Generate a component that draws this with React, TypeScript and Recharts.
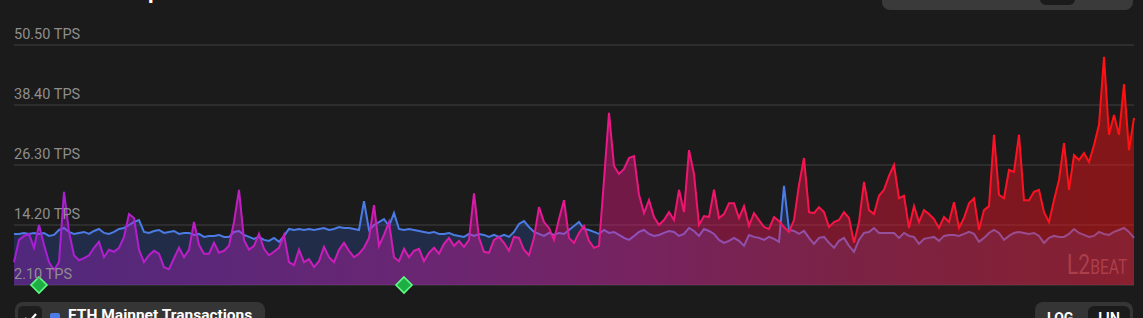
import React from "react";
import { ComposedChart, Area, XAxis, YAxis, CartesianGrid, ReferenceDot } from "recharts";

// Project transactions per second (daily)
const projectTps = [
  6.7, 11.2, 12.0, 12.4, 9.6, 14.2, 10.2, 6.7, 5.1, 6.7,
  20.9, 12.8, 8.1, 7.1, 7.5, 8.1, 9.6, 10.8, 7.7, 9.2,
  8.8, 9.6, 11.8, 16.4, 15.6, 9.2, 6.7, 8.1, 9.0, 8.4,
  5.7, 5.3, 7.5, 9.6, 7.7, 9.2, 14.8, 10.2, 8.4, 8.4,
  10.6, 8.6, 9.0, 10.0, 14.8, 21.3, 11.2, 9.2, 10.0, 12.4,
  9.4, 8.1, 8.8, 9.6, 12.2, 6.7, 6.1, 9.2, 6.7, 7.3,
  5.7, 6.9, 9.8, 7.7, 6.7, 9.2, 10.6, 9.0, 7.7, 8.4,
  9.6, 11.6, 18.2, 10.0, 12.2, 14.8, 7.7, 6.9, 9.4, 7.7,
  9.0, 9.4, 6.9, 8.6, 9.6, 8.4, 10.4, 11.6, 10.0, 11.0,
  9.8, 11.2, 20.6, 11.6, 8.8, 8.6, 11.2, 11.8, 10.6, 9.0,
  11.8, 11.6, 9.2, 8.1, 11.6, 17.8, 14.8, 13.6, 11.2, 15.4,
  19.2, 11.6, 10.6, 12.6, 14.0, 11.0, 9.6, 10.0, 23.3, 36.8,
  26.1, 24.5, 25.5, 27.7, 28.1, 20.3, 16.6, 19.2, 15.8, 14.2,
  15.2, 16.8, 15.2, 21.3, 16.8, 29.3, 24.5, 14.2, 16.0, 15.8,
  21.3, 15.6, 16.4, 18.6, 18.6, 15.6, 18.0, 14.0, 16.6, 15.2,
  13.8, 13.4, 15.8, 15.0, 13.8, 12.8, 15.2, 22.3, 27.7, 16.8,
  16.6, 17.8, 16.8, 13.8, 14.8, 15.2, 16.8, 15.6, 10.6, 14.8,
  22.9, 17.2, 16.4, 20.1, 21.3, 24.1, 26.3, 19.6, 20.1, 13.6,
  18.0, 14.8, 17.2, 16.4, 15.4, 13.6, 15.8, 14.8, 18.8, 13.6,
  15.6, 18.6, 19.6, 13.2, 17.2, 18.0, 32.4, 20.3, 19.6, 25.3,
  24.9, 32.4, 19.2, 19.2, 20.9, 21.3, 16.8, 14.8, 19.2, 23.3,
  30.7, 21.3, 28.3, 27.3, 28.7, 26.9, 30.3, 34.4, 48.1, 32.4,
  36.4, 32.4, 42.6, 29.3, 35.8,
];

// ETH Mainnet transactions per second (daily)
const ethTps = [
  12.4, 12.4, 12.6, 12.4, 12.6, 12.4, 12.6, 12.0, 12.2, 13.2,
  13.6, 12.8, 12.4, 12.6, 12.8, 12.4, 13.0, 13.4, 12.6, 12.4,
  12.8, 13.4, 13.6, 14.2, 14.8, 15.2, 12.8, 12.6, 13.0, 13.2,
  12.6, 12.8, 13.0, 12.4, 12.6, 12.6, 12.2, 12.4, 11.8, 12.0,
  12.0, 12.2, 11.8, 11.8, 12.8, 13.0, 12.2, 11.8, 11.4, 11.8,
  11.2, 11.0, 11.6, 10.8, 12.0, 13.4, 13.2, 13.4, 13.2, 13.4,
  13.2, 13.4, 13.6, 13.2, 13.4, 13.8, 13.6, 13.6, 13.4, 13.2,
  19.0, 13.2, 14.2, 14.8, 15.4, 14.0, 16.6, 13.4, 13.2, 13.4,
  13.2, 13.0, 12.8, 12.6, 12.8, 12.4, 12.4, 12.6, 12.2, 12.0,
  11.8, 12.4, 12.0, 12.4, 12.2, 11.8, 12.2, 11.8, 12.2, 11.8,
  12.8, 14.4, 15.0, 13.8, 12.8, 12.4, 12.0, 12.6, 12.2, 12.6,
  12.4, 13.2, 14.0, 14.8, 13.4, 13.2, 12.8, 12.4, 13.2, 12.6,
  12.8, 12.2, 11.6, 11.2, 12.0, 12.8, 13.2, 12.4, 12.0, 12.2,
  12.6, 13.0, 12.8, 12.0, 12.4, 13.6, 13.0, 12.0, 13.4, 13.0,
  12.4, 11.2, 10.6, 11.0, 11.6, 11.0, 10.0, 12.2, 11.8, 11.6,
  11.2, 11.8, 11.4, 10.8, 22.1, 13.2, 13.0, 12.4, 13.0, 11.6,
  10.4, 11.6, 11.8, 10.6, 9.6, 11.0, 11.6, 10.0, 8.8, 11.2,
  12.6, 12.8, 13.6, 12.6, 12.6, 12.6, 12.6, 11.6, 12.6, 12.0,
  11.8, 10.4, 11.4, 11.6, 11.8, 11.0, 12.0, 12.2, 12.2, 12.0,
  12.4, 12.8, 12.4, 10.8, 11.6, 12.6, 13.2, 12.6, 11.2, 12.0,
  12.6, 12.8, 12.6, 12.4, 12.6, 12.0, 10.6, 11.6, 12.0, 11.8,
  11.8, 12.4, 13.4, 12.6, 12.2, 11.8, 12.0, 12.8, 12.4, 12.2,
  12.8, 13.2, 13.6, 12.8, 11.6,
];

const dayIndex = projectTps.map((_, i) => i);
const yTicks = [2.1, 14.2, 26.3, 38.4, 50.5];
const milestoneDays = [5, 78];

const data = dayIndex.map((d) => ({ day: d, project: projectTps[d], eth: ethTps[d] }));

const W = 1143;
const H = 318;
const LEFT = 14;
const BG = "#1b1b1b";

const YTick = (props: any) => {
  const { y, payload } = props;
  return (
    <text x={LEFT} y={y - 6} fill="#8e8e8e" fontSize={14.5} fontFamily="Roboto, sans-serif" textAnchor="start">
      {Number(payload.value).toFixed(2)} TPS
    </text>
  );
};

const Diamond = (props: any) => {
  const { cx, cy } = props;
  const r = 8;
  return (
    <path
      d={`M${cx},${cy - r} L${cx + r},${cy} L${cx},${cy + r} L${cx - r},${cy} Z`}
      fill="#1fae43"
      stroke="#5cff84"
      strokeWidth={1.6}
    />
  );
};

export default function App() {
  return (
    <div style={{ position: "fixed", left: 0, top: 0, width: W, height: H, background: BG, overflow: "hidden", fontFamily: "Roboto, sans-serif" }}>
      {/* Title (mostly cropped) */}
      <div style={{ position: "absolute", left: 14, top: -22, fontSize: 22, fontWeight: 700, color: "#fff", whiteSpace: "nowrap" }}>
        Transactions per second
      </div>
      {/* Range selector (cropped) */}
      <div style={{ position: "absolute", left: 882, top: -24, width: 251, height: 34, background: "#3a3a3a", borderRadius: 8 }}>
        <div style={{ position: "absolute", left: 158, top: 0, width: 35, height: 29, background: BG, borderRadius: 6 }} />
      </div>

      <ComposedChart width={W} height={H} data={data} margin={{ top: 45, right: 9, bottom: 33, left: LEFT }}>
        <defs>
          <linearGradient id="projStroke" x1="0" y1="0" x2="1" y2="0">
            <stop offset="0%" stopColor="#a61fd8" />
            <stop offset="38%" stopColor="#d91bb0" />
            <stop offset="55%" stopColor="#ec1682" />
            <stop offset="75%" stopColor="#f8143f" />
            <stop offset="100%" stopColor="#ff1010" />
          </linearGradient>
          <linearGradient id="projFill" x1="0" y1="0" x2="1" y2="0">
            <stop offset="0%" stopColor="#a61fd8" stopOpacity={0.36} />
            <stop offset="38%" stopColor="#d91bb0" stopOpacity={0.4} />
            <stop offset="55%" stopColor="#ec1682" stopOpacity={0.42} />
            <stop offset="75%" stopColor="#f8143f" stopOpacity={0.42} />
            <stop offset="100%" stopColor="#ff1010" stopOpacity={0.46} />
          </linearGradient>
        </defs>
        <CartesianGrid vertical={false} stroke="#404040" strokeWidth={1} />
        <XAxis dataKey="day" type="number" domain={[0, dayIndex.length - 1]} hide />
        <YAxis
          domain={[2.1, 50.5]}
          ticks={yTicks}
          width={70}
          mirror
          interval={0}
          axisLine={false}
          tickLine={false}
          tick={<YTick />}
          allowDataOverflow
        />
        <Area
          type="linear"
          dataKey="eth"
          stroke="#4b7be5"
          strokeWidth={2}
          fill="#2f4f9f"
          fillOpacity={0.35}
          isAnimationActive={false}
          dot={false}
          activeDot={false}
        />
        <Area
          type="linear"
          dataKey="project"
          stroke="url(#projStroke)"
          strokeWidth={2}
          fill="url(#projFill)"
          fillOpacity={1}
          isAnimationActive={false}
          dot={false}
          activeDot={false}
        />
        {milestoneDays.map((d) => (
          <ReferenceDot key={d} x={d} y={2.1} r={8} ifOverflow="visible" shape={<Diamond />} />
        ))}
      </ComposedChart>

      {/* Watermark */}
      <div style={{ position: "absolute", left: 1067, top: 252, color: "rgba(255,130,130,0.33)", whiteSpace: "nowrap", lineHeight: 1, transform: "scaleX(0.78)", transformOrigin: "left top" }}>
        <span style={{ fontSize: 27, fontWeight: 400 }}>L2</span>
        <span style={{ fontSize: 20, fontWeight: 400 }}>BEAT</span>
      </div>

      {/* Legend */}
      <div style={{ position: "absolute", left: 15, top: 302, width: 250, height: 30, background: "#353535", borderRadius: 8 }}>
        <div style={{ position: "absolute", left: 3, top: 4, width: 24, height: 24, background: "#1e1e1e", borderRadius: 5 }}>
          <svg width={24} height={24} style={{ position: "absolute", left: 0, top: 0 }}>
            <path d="M7 12 L11 16 L18 8" stroke="#fff" strokeWidth={2.2} fill="none" />
          </svg>
        </div>
        <div style={{ position: "absolute", left: 35, top: 11, width: 10, height: 10, background: "#4b7be5", borderRadius: 2 }} />
        <div style={{ position: "absolute", left: 53, top: 4, fontSize: 15.5, fontWeight: 700, color: "#fff", whiteSpace: "nowrap" }}>
          ETH Mainnet Transactions
        </div>
      </div>

      {/* LOG / LIN toggle */}
      <div style={{ position: "absolute", left: 1035, top: 302, width: 98, height: 30, background: "#353535", borderRadius: 8 }}>
        <div style={{ position: "absolute", left: 12, top: 8, fontSize: 14, fontWeight: 700, color: "#fff" }}>LOG</div>
        <div style={{ position: "absolute", left: 53, top: 4, width: 42, height: 26, background: BG, borderRadius: 6 }}>
          <div style={{ position: "absolute", left: 0, top: 4, width: 42, textAlign: "center", fontSize: 14, fontWeight: 700, color: "#fff" }}>LIN</div>
        </div>
      </div>
    </div>
  );
}
